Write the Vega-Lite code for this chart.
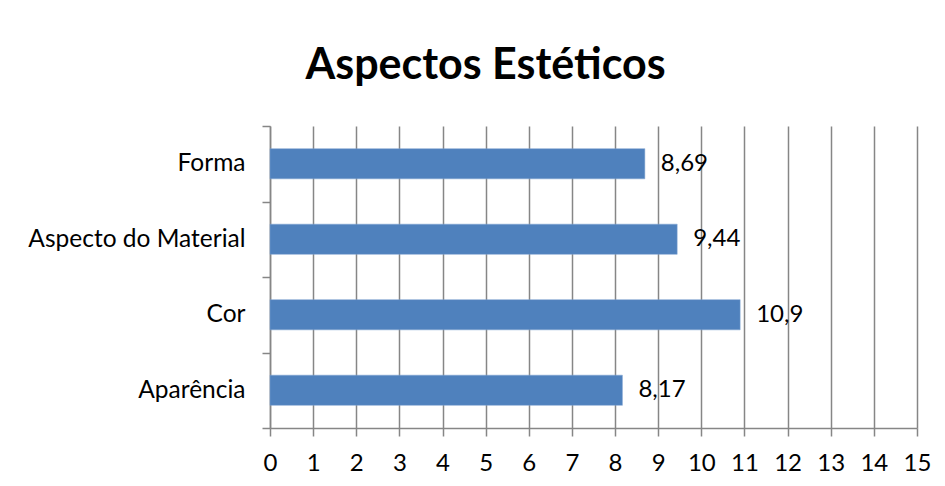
{
  "$schema": "https://vega.github.io/schema/vega-lite/v6.json",
  "autosize": {"type": "none"},
  "width": 647,
  "height": 302,
  "padding": {"left": 270, "top": 126, "right": 28, "bottom": 58},
  "background": "white",
  "config": {
    "view": {"stroke": null},
    "font": "Lato",
    "locale": {"number": {"decimal": ",", "thousands": ".", "grouping": [3], "currency": ["", ""]}}
  },
  "title": {
    "text": "Aspectos Estéticos",
    "font": "Lato",
    "fontSize": 43,
    "fontWeight": "bold",
    "color": "black",
    "anchor": "middle",
    "frame": "group",
    "dx": -108,
    "offset": 25
  },
  "data": {
    "values": [
      {"categoria": "Forma", "valor": 8.69},
      {"categoria": "Aspecto do Material", "valor": 9.44},
      {"categoria": "Cor", "valor": 10.9},
      {"categoria": "Aparência", "valor": 8.17}
    ]
  },
  "encoding": {
    "y": {
      "field": "categoria",
      "type": "nominal",
      "sort": ["Forma", "Aspecto do Material", "Cor", "Aparência"],
      "scale": {"paddingInner": 0, "paddingOuter": 0},
      "axis": {
        "title": null,
        "tickBand": "extent",
        "tickSize": 8,
        "tickColor": "#868686",
        "domainColor": "#868686",
        "domainWidth": 1.5,
        "tickWidth": 1.5,
        "labelFont": "Lato",
        "labelFontSize": 24.5,
        "labelColor": "black",
        "labelPadding": 17,
        "labelLimit": 0,
        "grid": false
      }
    },
    "x": {
      "field": "valor",
      "type": "quantitative",
      "scale": {"domain": [0, 15], "nice": false},
      "axis": {
        "title": null,
        "values": [0, 1, 2, 3, 4, 5, 6, 7, 8, 9, 10, 11, 12, 13, 14, 15],
        "format": "d",
        "tickSize": 8,
        "tickColor": "#868686",
        "tickWidth": 1.5,
        "domainColor": "#868686",
        "domainWidth": 1.5,
        "grid": true,
        "gridColor": "#868686",
        "gridWidth": 1.5,
        "labelFont": "Lato",
        "labelFontSize": 24,
        "labelColor": "black",
        "labelPadding": 15,
        "labelFlush": false
      }
    }
  },
  "layer": [
    {"mark": {"type": "bar", "color": "#4F81BD", "stroke": "#7FA3D0", "strokeWidth": 0.5, "height": {"band": 0.4}}},
    {
      "mark": {"type": "text", "align": "left", "baseline": "middle", "dx": 16, "font": "Lato", "fontSize": 24, "color": "black"},
      "encoding": {"text": {"field": "valor", "type": "quantitative", "format": "~g"}}
    }
  ]
}
